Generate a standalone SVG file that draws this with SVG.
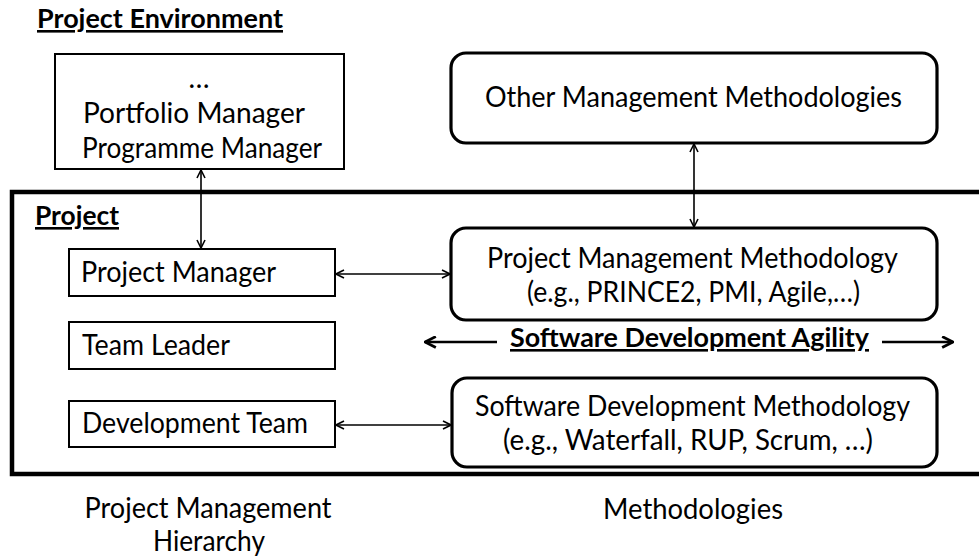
<svg xmlns="http://www.w3.org/2000/svg" width="979" height="557" viewBox="0 0 979 557">
<style>
text{font-family:Lato,"Liberation Sans",sans-serif;font-size:28px;fill:#000}
.b{font-weight:bold;text-decoration:underline;font-size:26px}
.box{fill:#fff;stroke:#000;stroke-width:2}
.rbox{fill:#fff;stroke:#000;stroke-width:3.2}
.frame{fill:none;stroke:#000;stroke-width:4.5}
.con{fill:none;stroke:#000;stroke-width:1.6}
.agi{fill:none;stroke:#000;stroke-width:2.6}
</style>
<defs>
<marker id="ah" viewBox="0 0 10 10" refX="9" refY="5" markerUnits="userSpaceOnUse" markerWidth="10" markerHeight="10" orient="auto-start-reverse">
<path d="M1,1 L9,5 L1,9" fill="none" stroke="#000" stroke-width="1.6"/>
</marker>
<marker id="ah2" viewBox="0 0 12 12" refX="11" refY="6" markerUnits="userSpaceOnUse" markerWidth="13" markerHeight="13" orient="auto-start-reverse">
<path d="M1,1 L11,6 L1,11" fill="none" stroke="#000" stroke-width="2.6"/>
</marker>
</defs>
<rect width="979" height="557" fill="#fff"/>

<g id="project-environment-label">
<text class="b" x="37" y="28" textLength="246" lengthAdjust="spacingAndGlyphs">Project Environment</text>
</g>

<g id="project-frame">
<rect class="frame" x="12" y="192" width="990" height="282"/>
<text class="b" x="35" y="225" textLength="84" lengthAdjust="spacingAndGlyphs">Project</text>
</g>

<g id="portfolio-box">
<rect class="box" x="55" y="54" width="289" height="115"/>
<text x="199" y="88" text-anchor="middle">…</text>
<text x="194" y="123" text-anchor="middle" textLength="222" lengthAdjust="spacingAndGlyphs">Portfolio Manager</text>
<text x="202" y="158" text-anchor="middle" textLength="240" lengthAdjust="spacingAndGlyphs">Programme Manager</text>
</g>

<g id="project-manager">
<rect class="box" x="69" y="249" width="266" height="47"/>
<text x="81" y="282" textLength="195" lengthAdjust="spacingAndGlyphs">Project Manager</text>
</g>

<g id="team-leader">
<rect class="box" x="69" y="322" width="266" height="47"/>
<text x="82" y="355" textLength="148" lengthAdjust="spacingAndGlyphs">Team Leader</text>
</g>

<g id="development-team">
<rect class="box" x="69" y="401" width="266" height="46"/>
<text x="82" y="433" textLength="226" lengthAdjust="spacingAndGlyphs">Development Team</text>
</g>

<g id="other-methodologies">
<rect class="rbox" x="451" y="53" width="486" height="90" rx="15"/>
<text x="485" y="107" textLength="417" lengthAdjust="spacingAndGlyphs">Other Management Methodologies</text>
</g>

<g id="pm-methodology">
<rect class="rbox" x="451" y="228" width="486" height="92" rx="15"/>
<text x="487" y="268" textLength="411" lengthAdjust="spacingAndGlyphs">Project Management Methodology</text>
<text x="527" y="302" textLength="333" lengthAdjust="spacingAndGlyphs">(e.g., PRINCE2, PMI, Agile,…)</text>
</g>

<g id="sd-methodology">
<rect class="rbox" x="452" y="378" width="485" height="89" rx="15"/>
<text x="475" y="416" textLength="435" lengthAdjust="spacingAndGlyphs">Software Development Methodology</text>
<text x="503" y="450" textLength="370" lengthAdjust="spacingAndGlyphs">(e.g., Waterfall, RUP, Scrum, …)</text>
</g>

<g id="agility">
<text class="b" x="510" y="347" textLength="359" lengthAdjust="spacingAndGlyphs">Software Development Agility</text>
</g>

<g id="captions">
<text x="208" y="518" text-anchor="middle" textLength="247" lengthAdjust="spacingAndGlyphs">Project Management</text>
<text x="209" y="551" text-anchor="middle" textLength="112" lengthAdjust="spacingAndGlyphs">Hierarchy</text>
<text x="693" y="519" text-anchor="middle" textLength="180" lengthAdjust="spacingAndGlyphs">Methodologies</text>
</g>

<g id="connectors">
<line class="con" x1="201" y1="170" x2="201" y2="248" marker-start="url(#ah)" marker-end="url(#ah)"/>
<line class="con" x1="694" y1="144" x2="694" y2="227" marker-start="url(#ah)" marker-end="url(#ah)"/>
<line class="con" x1="336" y1="274" x2="450" y2="274" marker-start="url(#ah)" marker-end="url(#ah)"/>
<line class="con" x1="336" y1="425" x2="451" y2="425" marker-start="url(#ah)" marker-end="url(#ah)"/>
<line class="agi" x1="425" y1="342" x2="497" y2="342" marker-start="url(#ah2)"/>
<line class="agi" x1="882" y1="342" x2="953" y2="342" marker-end="url(#ah2)"/>
</g>
</svg>
